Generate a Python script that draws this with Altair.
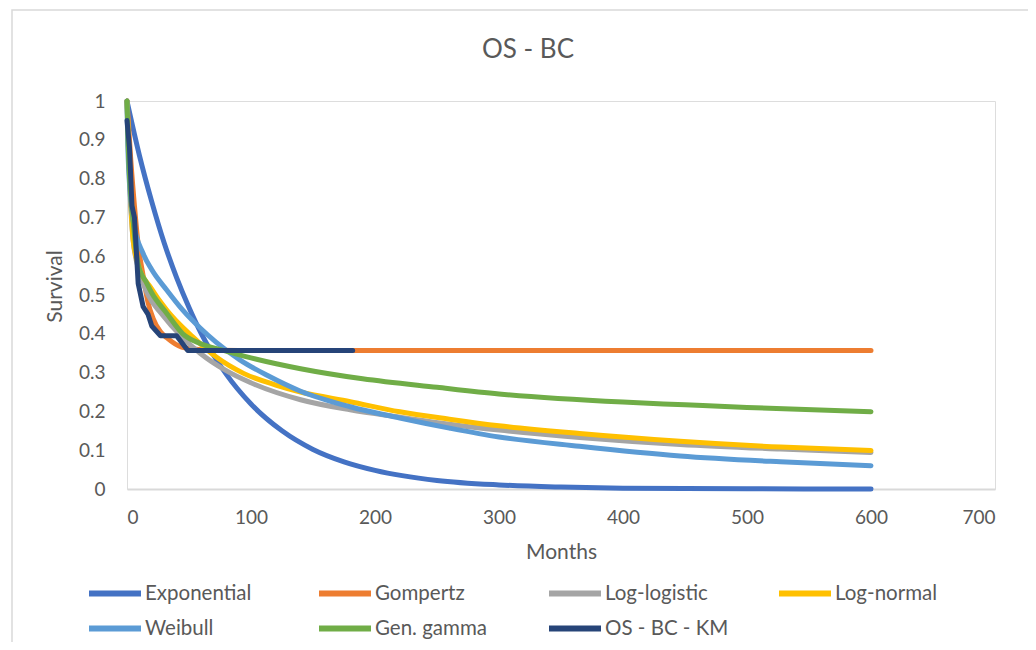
import altair as alt
import pandas as pd

SERIES = ["Exponential", "Gompertz", "Log-logistic", "Log-normal", "Weibull", "Gen. gamma", "OS - BC - KM"]
COLORS = ["#4472C4", "#ED7D31", "#A5A5A5", "#FFC000", "#5B9BD5", "#70AD47", "#264478"]

exp_t = [0, 10, 20, 30, 40, 50, 60, 80, 100, 125, 150, 175, 200, 250, 300, 350, 400, 500, 600]
exp_s = [1.0, 0.86, 0.74, 0.634, 0.545, 0.468, 0.40, 0.296, 0.219, 0.15, 0.102, 0.07, 0.048, 0.022, 0.0105, 0.005, 0.002, 0.0005, 0.0]

gom_t = [0, 3, 6, 9, 13, 17, 21, 27, 32, 44, 60, 90, 600]
gom_s = [1.0, 0.85, 0.73, 0.63, 0.55, 0.48, 0.44, 0.405, 0.39, 0.366, 0.359, 0.357, 0.357]

llo_t = [0, 2, 5, 10, 17, 27, 45, 59, 80, 99, 140, 180, 220, 260, 300, 365, 446, 527, 600]
llo_s = [1.0, 0.80, 0.64, 0.56, 0.50, 0.455, 0.39, 0.35, 0.305, 0.275, 0.23, 0.204, 0.185, 0.167, 0.152, 0.133, 0.115, 0.103, 0.094]

lno_t = [0, 2, 5, 10, 19, 32, 53, 72, 94, 120, 140, 180, 220, 260, 300, 365, 446, 527, 600]
lno_s = [1.0, 0.82, 0.64, 0.57, 0.52, 0.461, 0.392, 0.34, 0.298, 0.268, 0.25, 0.225, 0.199, 0.18, 0.163, 0.143, 0.123, 0.108, 0.099]

wei_t = [0, 1, 5, 13, 20, 32, 45, 59, 72, 91, 113, 140, 180, 220, 260, 300, 365, 446, 527, 600]
wei_s = [1.0, 0.85, 0.69, 0.607, 0.565, 0.513, 0.461, 0.415, 0.378, 0.333, 0.293, 0.252, 0.212, 0.183, 0.157, 0.134, 0.11, 0.085, 0.07, 0.06]

gg_t = [0, 1, 5, 9, 16, 20, 32, 45, 59, 77, 100, 140, 190, 250, 300, 400, 450, 500, 600]
gg_s = [1.0, 0.88, 0.69, 0.58, 0.53, 0.505, 0.453, 0.40, 0.375, 0.358, 0.338, 0.31, 0.284, 0.262, 0.245, 0.224, 0.217, 0.21, 0.199]

km_t = [0, 2, 4, 6, 9, 13, 17, 20, 27, 40, 49, 182]
km_s = [0.95, 0.88, 0.73, 0.70, 0.53, 0.47, 0.45, 0.42, 0.395, 0.395, 0.357, 0.357]

X_TICKS = [0, 100, 200, 300, 400, 500, 600, 700]
Y_TICKS = [0, 0.1, 0.2, 0.3, 0.4, 0.5, 0.6, 0.7, 0.8, 0.9, 1.0]
TITLE = "OS - BC"

pairs = [(exp_t, exp_s), (gom_t, gom_s), (llo_t, llo_s), (lno_t, lno_s),
         (wei_t, wei_s), (gg_t, gg_s), (km_t, km_s)]
rows = []
for name, (ts, ss) in zip(SERIES, pairs):
    for t, s in zip(ts, ss):
        rows.append({"series": name, "Months": t, "Survival": s})
df = pd.DataFrame(rows)

FONT = "Lato"
GREY = "#595959"

color = alt.Color(
    "series:N",
    scale=alt.Scale(domain=SERIES, range=COLORS),
    legend=alt.Legend(
        title=None, orient="none", legendX=-41, legendY=475,
        columns=4, direction="horizontal", gridAlign="all",
        columnPadding=47, rowPadding=0, clipHeight=35,
        symbolType="stroke", symbolSize=2704, symbolStrokeWidth=6,
        labelFont=FONT, labelFontSize=20.5, labelColor=GREY, labelOffset=1,
        padding=0,
    ),
)

x = alt.X("Months:Q", scale=alt.Scale(domain=[0, 700], nice=False),
          axis=alt.Axis(values=X_TICKS, title="Months", grid=False, ticks=False,
                        domainColor="#D9D9D9", domainWidth=2, labelPadding=19,
                        labelFont=FONT, labelFontSize=19, labelColor=GREY,
                        titleFont=FONT, titleFontSize=21, titleColor=GREY,
                        titleFontWeight="normal", titleY=63, titleBaseline="middle"))
y = alt.Y("Survival:Q", scale=alt.Scale(domain=[0, 1], nice=False),
          axis=alt.Axis(values=Y_TICKS, format=".1~f", title="Survival", grid=False,
                        ticks=False, domain=False, labelPadding=22,
                        labelFont=FONT, labelFontSize=19, labelColor=GREY,
                        titleFont=FONT, titleFontSize=21, titleColor=GREY,
                        titleFontWeight="normal", titleX=-72, titleY=185,
                        titleAlign="center", titleBaseline="middle", titleAngle=-90))

frame = alt.Chart(pd.DataFrame({"a": [0]})).mark_rect(
    fill=None, stroke="#D9D9D9", strokeWidth=1.5
).encode(x=alt.value(-115), x2=alt.value(920), y=alt.value(-91), y2=alt.value(560))

title = alt.Chart(pd.DataFrame({"t": [TITLE]})).mark_text(
    font=FONT, fontSize=26, color=GREY, align="center", baseline="middle"
).encode(text="t:N", x=alt.value(401), y=alt.value(-51))

layers = [frame, title]
for name in SERIES:
    interp = "linear" if name == "OS - BC - KM" else "monotone"
    layers.append(
        alt.Chart(df).transform_filter(alt.datum.series == name)
        .mark_line(strokeWidth=5, strokeCap="round", strokeJoin="round", interpolate=interp)
        .encode(x=x, y=y, color=color)
    )

chart = alt.layer(*layers).properties(
    width=868, height=388,
    autosize=alt.AutoSizeParams(type="none"),
    padding={"left": 119, "top": 93, "right": 33, "bottom": 153},
).configure_view(stroke=None).configure(background="white")

chart.save("out.html", embed_options={"renderer": "svg", "actions": False})
